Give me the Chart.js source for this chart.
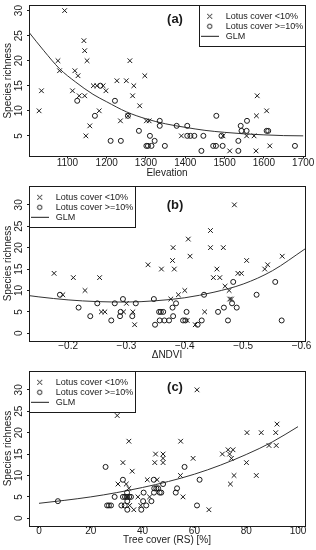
<!DOCTYPE html>
<html><head><meta charset="utf-8">
<script src="https://cdn.jsdelivr.net/npm/chart.js@4.4.1/dist/chart.umd.min.js"></script>
<style>
html,body{margin:0;padding:0;background:#fff;width:316px;height:550px;overflow:hidden}
canvas{position:absolute;left:0}
</style></head><body>
<canvas id="ca" width="316" height="180" style="top:0px"></canvas>
<canvas id="cb" width="316" height="185" style="top:180px"></canvas>
<canvas id="cc" width="316" height="185" style="top:365px"></canvas>
<script>
// ---------- Panel (a): Elevation ----------
const elevLowX = [1028,1034,1076,1080,1093,1113,1119,1127,1130,1142,1144,1144,1147,1150,1157,1166,1175,1181,1191,1198,1226,1235,1250,1254,1259,1266,1269,1284,1297,1301,1308,1390,1496,1513,1556,1575,1580,1581,1583,1607,1615];
const elevLowY = [10,14,20,18,30,14,18,17,13,24,22,13,5,20,7,15,15,10,15,14,16,8,16,9,20,13,15,11,17,8,8,5,5,2,5,5,2,9,13,10,3];
const elevHighX = [1125,1170,1184,1210,1221,1236,1254,1282,1301,1305,1310,1314,1322,1335,1335,1348,1378,1405,1405,1413,1423,1441,1446,1471,1478,1479,1492,1495,1535,1535,1541,1543,1556,1557,1607,1611,1679];
const elevHighY = [12,9,15,4,12,4,9,6,3,3,5,3,4,8,7,3,7,7,5,5,5,2,5,3,3,9,5,3,2,4,7,6,6,8,6,6,3];
const glmElevX = [1003,1040,1080,1120,1165,1200,1250,1300,1350,1400,1450,1500,1550,1600,1650,1700];
const glmElevY = [25.6,22.0,18.4,15.8,13.3,11.8,9.8,8.4,7.4,6.7,6.1,5.7,5.4,5.2,5.05,5.0];
const xTicksA = [1100,1200,1300,1400,1500,1600,1700];
const xTickLabelsA = ['1100','1200','1300','1400','1500','1600','1700'];
const yTicksA = [5,10,15,20,25,30];
const yTickLabelsA = ['5','10','15','20','25','30'];

// ---------- Panel (b): delta NDVI ----------
const ndviLowX = [-0.176,-0.191,-0.209,-0.229,-0.254,-0.257,-0.263,-0.295,-0.300,-0.311,-0.314,-0.337,-0.360,-0.376,-0.379,-0.380,-0.382,-0.389,-0.400,-0.404,-0.406,-0.409,-0.418,-0.434,-0.444,-0.444,-0.449,-0.455,-0.460,-0.466,-0.469,-0.476,-0.477,-0.480,-0.485,-0.491,-0.497,-0.506,-0.537,-0.542,-0.567];
const ndviLowY = [14,9,13,10,13,5,5,5,7,5,2,16,15,8,17,20,15,9,10,3,22,18,2,5,24,20,13,15,13,20,11,10,8,8,30,14,14,17,15,16,18];
const ndviHighX = [-0.186,-0.218,-0.238,-0.250,-0.274,-0.280,-0.289,-0.290,-0.294,-0.310,-0.316,-0.347,-0.349,-0.356,-0.359,-0.363,-0.357,-0.365,-0.373,-0.379,-0.385,-0.380,-0.397,-0.401,-0.403,-0.422,-0.429,-0.433,-0.457,-0.467,-0.474,-0.481,-0.483,-0.489,-0.523,-0.555,-0.566];
const ndviHighY = [9,6,4,7,3,7,4,5,8,4,7,8,2,5,5,5,3,3,3,6,7,4,3,3,5,2,3,9,5,6,3,7,12,6,9,12,3];
const glmNdviX = [-0.133,-0.15,-0.2,-0.25,-0.3,-0.35,-0.4,-0.45,-0.5,-0.55,-0.606];
const glmNdviY = [8.8,8.5,7.8,7.4,7.3,7.6,8.3,9.6,11.5,14.6,19.7];
const xTicksB = [-0.2,-0.3,-0.4,-0.5,-0.6];
const xTickLabelsB = ['\u22120.2','\u22120.3','\u22120.4','\u22120.5','\u22120.6'];
const yTicksBC = [0,5,10,15,20,25,30];
const yTickLabelsBC = ['0','5','10','15','20','25','30'];

// ---------- Panel (c): Tree cover ----------
const treeLowX = [61,30.2,34.7,54.7,32.4,36,30.5,33.7,34.7,41.8,45.6,45,44.7,47.9,47.9,47.9,54.6,59.5,55.6,65.6,70.8,73,73.6,74.3,74.9,73.9,75.3,80.3,80.1,85.8,83.9,88.8,91.4,91.6,91.9,36.6,35,39.3,38.2,42.7,34];
const treeLowY = [30,24,18,18,13,11,8,8,7,9,9,15,13,15,14,13,10,14,5,2,15,16,15,14,16,8,10,20,13,20,10,17,20,17,22,2,3,3,5,5,5];
const treeHighX = [7.3,25.7,56.2,32.4,44.3,47.9,45.3,46,44.5,53.3,52.8,46.6,47.2,44.4,40.4,29.2,32.4,33.2,34,34.8,35.5,43.4,26.3,27,27.8,31.8,33.1,34.1,41.4,34.1,39.5,61,62,34,40.2];
const treeHighY = [4,12,12,9,9,8,7,7,7,7,6,6,6,6,6,5,5,5,5,5,5,4,3,3,3,3,3,4,3,2,2,3,9,6,4];
const glmTreeX = [0,10,20,30,40,50,60,70,80,90,100];
const glmTreeY = [3.5,4.2,5.0,6.0,7.2,8.6,10.3,12.4,14.9,17.8,21.4];
const xTicksC = [0,20,40,60,80,100];
const xTickLabelsC = ['0','20','40','60','80','100'];

const seriesNames = ['Lotus cover <10%','Lotus cover >=10%','GLM'];
const yTitle = 'Species richness';

// ---------- rendering ----------
const INK = '#1a1a1a';
const FONT = "'Liberation Sans', Arial, Helvetica, sans-serif";
Chart.defaults.font.family = FONT;
Chart.defaults.font.size = 10;
Chart.defaults.color = INK;

function pts(xs, ys) { return xs.map((x, i) => ({x: x, y: ys[i]})); }

function icon(kind) {
  const c = document.createElement('canvas');
  if (kind === 'line') { c.width = 18; c.height = 3; } else { c.width = 7; c.height = 7; }
  const g = c.getContext('2d');
  g.strokeStyle = INK; g.lineWidth = 1;
  g.beginPath();
  if (kind === 'x') { g.moveTo(1,1); g.lineTo(6,6); g.moveTo(6,1); g.lineTo(1,6); }
  else if (kind === 'o') { g.arc(3.5,3.5,2.2,0,Math.PI*2); }
  else { g.moveTo(0,1.5); g.lineTo(18,1.5); }
  g.stroke();
  return c;
}
const ICONS = [icon('x'), icon('o'), icon('line')];

const LEG_W = 106, LEG_H = 41;

const framePlugin = {
  id: 'frame',
  afterLayout(chart, args, o) {
    const lg = chart.legend, ca = chart.chartArea;
    if (!lg) return;
    const bx = o.legendRight ? ca.right - LEG_W : ca.left;
    const by = ca.top;
    lg.left = bx - 1.8; lg.right = bx + LEG_W - 1;
    lg.top = by + 5.8; lg.bottom = by + LEG_H - 1;
    lg.width = lg.right - lg.left; lg.height = lg.bottom - lg.top;
  },
  afterDraw(chart, args, o) {
    const ctx = chart.ctx, ca = chart.chartArea;
    ctx.save();
    ctx.strokeStyle = INK; ctx.lineWidth = 1;
    const l = Math.floor(ca.left) + 0.5, r = Math.floor(ca.right) + 0.5;
    const t = Math.floor(ca.top) + 0.5, b = Math.floor(ca.bottom) + 0.5;
    ctx.strokeRect(l, t, r - l, b - t);
    const lx0 = o.legendRight ? r - LEG_W : l;
    const lx1 = o.legendRight ? r : l + LEG_W;
    ctx.strokeRect(lx0, t, lx1 - lx0, LEG_H);
    ctx.fillStyle = INK;
    ctx.font = 'bold 13px ' + FONT;
    ctx.textAlign = 'center'; ctx.textBaseline = 'middle';
    ctx.fillText(o.tag, 175, o.tagY);
    ctx.restore();
  }
};

function makeChart(p) {
  return new Chart(document.getElementById(p.id), {
    type: 'scatter',
    data: { datasets: [
      { label: seriesNames[0], data: pts(p.lowX, p.lowY), pointStyle: 'crossRot', pointRadius: 3.3, pointBorderWidth: 1, borderColor: INK, backgroundColor: INK },
      { label: seriesNames[1], data: pts(p.highX, p.highY), pointStyle: 'circle', pointRadius: 2.5, pointBorderWidth: 1, borderColor: INK, backgroundColor: 'rgba(0,0,0,0)' },
      { label: seriesNames[2], data: pts(p.curveX, p.curveY), showLine: true, pointRadius: 0, borderColor: '#333', borderWidth: 1, cubicInterpolationMode: 'monotone', fill: false, pointStyle: 'line' }
    ]},
    options: {
      responsive: false, animation: false, events: [], devicePixelRatio: 1,
      layout: { padding: { left: 0, right: 11, top: p.padTop, bottom: 0 } },
      scales: {
        x: {
          type: 'linear', min: p.xMin, max: p.xMax, reverse: p.reverse,
          afterBuildTicks: s => { s.ticks = p.xTicks.map(v => ({value: v})); },
          afterFit: s => { s.height = p.xH; s.paddingLeft = 0; s.paddingRight = 0; },
          ticks: { autoSkip: false, minRotation: 0, maxRotation: 0, padding: p.xTickPad, color: INK, font: {size: 10},
                   callback: (v, i) => p.xLabels[i] },
          grid: { display: true, drawOnChartArea: false, drawTicks: true, tickLength: 2, color: INK, lineWidth: 1 },
          border: { display: false },
          title: { display: true, text: p.xTitle, color: INK, font: {size: 10}, padding: { top: 0, bottom: p.xTitlePad } }
        },
        y: {
          type: 'linear', min: p.yMin, max: p.yMax,
          afterBuildTicks: s => { s.ticks = p.yTicks.map(v => ({value: v})); },
          afterFit: s => { s.width = 29; s.paddingTop = 0; s.paddingBottom = 0; },
          ticks: { autoSkip: false, minRotation: 90, maxRotation: 90, crossAlign: 'center', padding: 2.5, color: INK, font: {size: 10},
                   callback: (v, i) => p.yLabels[i] },
          grid: { display: true, drawOnChartArea: false, drawTicks: true, tickLength: 2, color: INK, lineWidth: 1 },
          border: { display: false },
          title: { display: true, text: yTitle, color: INK, font: {size: 10}, padding: { top: 2.5, bottom: 0 } }
        }
      },
      plugins: {
        tooltip: { enabled: false },
        legend: {
          display: true, position: 'chartArea', align: 'start',
          labels: {
            color: INK, font: {size: 9}, usePointStyle: true, pointStyleWidth: 23, boxHeight: 4, padding: 1,
            generateLabels: (chart) => {
              const items = Chart.defaults.plugins.legend.labels.generateLabels(chart);
              items.forEach((it, i) => { it.pointStyle = ICONS[i]; it.fontColor = INK; });
              return items;
            }
          }
        },
        frame: { tag: p.tag, tagY: p.tagY, legendRight: p.legendRight }
      }
    },
    plugins: [framePlugin]
  });
}

makeChart({ id: 'ca', lowX: elevLowX, lowY: elevLowY, highX: elevHighX, highY: elevHighY, curveX: glmElevX, curveY: glmElevY,
  xMin: 1002.3, xMax: 1704.6, reverse: false, xTicks: xTicksA, xLabels: xTickLabelsA,
  yMin: 0.88, yMax: 31.12, yTicks: yTicksA, yLabels: yTickLabelsA, xTitle: 'Elevation',
  tag: '(a)', tagY: 19, legendRight: true, padTop: 3, xH: 23.5, xTickPad: -1.5, xTitlePad: 1 });

makeChart({ id: 'cb', lowX: ndviLowX, lowY: ndviLowY, highX: ndviHighX, highY: ndviHighY, curveX: glmNdviX, curveY: glmNdviY,
  xMin: -0.606, xMax: -0.133, reverse: true, xTicks: xTicksB, xLabels: xTickLabelsB,
  yMin: -1.8, yMax: 34.4, yTicks: yTicksBC, yLabels: yTickLabelsBC, xTitle: '\u0394NDVI',
  tag: '(b)', tagY: 25, legendRight: false, padTop: 6, xH: 24, xTickPad: -3, xTitlePad: 4 });

makeChart({ id: 'cc', lowX: treeLowX, lowY: treeLowY, highX: treeHighX, highY: treeHighY, curveX: glmTreeX, curveY: glmTreeY,
  xMin: -3.86, xMax: 102.7, reverse: false, xTicks: xTicksC, xLabels: xTickLabelsC,
  yMin: -1.8, yMax: 34.4, yTicks: yTicksBC, yLabels: yTickLabelsBC, xTitle: 'Tree cover (RS) [%]',
  tag: '(c)', tagY: 22, legendRight: false, padTop: 6, xH: 24, xTickPad: -3, xTitlePad: 3.7 });
</script>
</body></html>
